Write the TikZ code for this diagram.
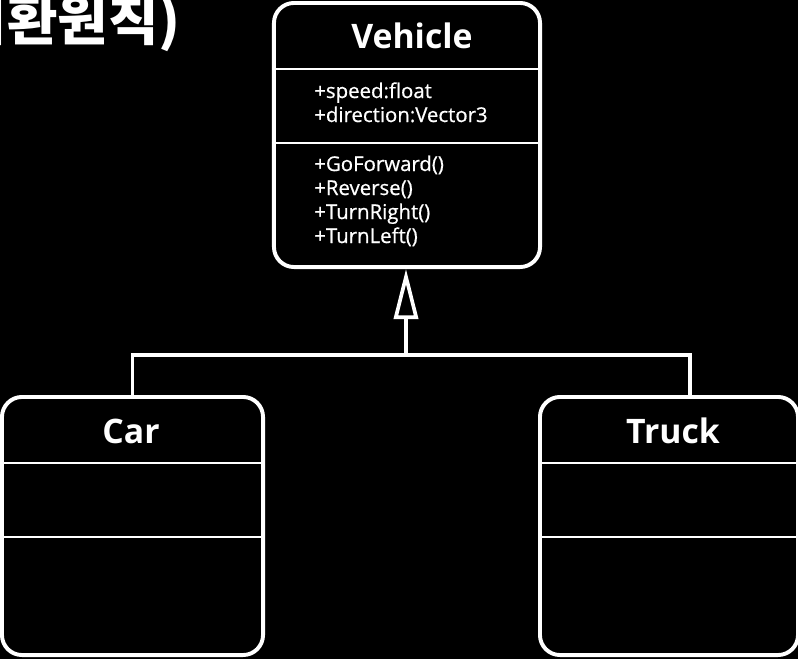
\documentclass[tikz,border=0pt]{standalone}
\usepackage{fontspec}
\setmainfont{Open Sans}
\newfontfamily\memberfont{Open Sans}[FakeBold=0.7]
\newfontfamily\krfont{Noto Sans CJK KR}
\usetikzlibrary{arrows.meta}
\begin{document}
\begin{tikzpicture}[x=0.025cm,y=-0.025cm,
  classbox/.style={draw=white,line width=2.8pt,rounded corners=0.5cm,inner sep=0pt},
  divider/.style={draw=white,line width=1.8pt},
  link/.style={draw=white,line width=2.6pt},
  title/.style={text=white,anchor=base,font=\bfseries\fontsize{24}{28}\selectfont},
  member/.style={text=white,anchor=base west,inner sep=0pt,font=\memberfont\fontsize{14.5}{17}\selectfont}]
\fill[black] (0,0) rectangle (798,659);
\useasboundingbox (0,0) rectangle (798,659);
\begin{scope}
\clip (0,0) rectangle (798,659);
\node[text=white,anchor=base east,inner sep=0pt,font=\krfont\bfseries\fontsize{39}{44}\selectfont] (caption) at (181,40) {치환원칙)};

% classes
\node[classbox,minimum width=6.65cm,minimum height=6.6cm] (vehicle) at (407,135) {};
\node[classbox,minimum width=6.525cm,minimum height=6.45cm] (car) at (132.5,526) {};
\node[classbox,minimum width=6.45cm,minimum height=6.45cm] (truck) at (669,526) {};

% compartments
\draw[divider] (vehicle.west |- 0,69)--(vehicle.east |- 0,69);
\draw[divider] (vehicle.west |- 0,143)--(vehicle.east |- 0,143);
\foreach \cls in {car,truck}{
  \draw[divider] (\cls.west |- 0,463)--(\cls.east |- 0,463);
  \draw[divider] (\cls.west |- 0,537)--(\cls.east |- 0,537);
}

\node[title] (vehicle_name) at (412,48) {Vehicle};
\node[title] (car_name) at (131,443) {Car};
\node[title] (truck_name) at (673,443) {Truck};

\node[member] (speed) at (314,98) {+speed:float};
\node[member] (direction) at (314,122) {+direction:Vector3};
\node[member] (forward) at (314,171) {+GoForward()};
\node[member] (reverse) at (314,195) {+Reverse()};
\node[member] (right) at (314,219) {+TurnRight()};
\node[member] (left) at (314,243) {+TurnLeft()};

% generalization
\coordinate (split) at (406,355);
\coordinate (truck_in) at (690,397);
\draw[link] (car.north) |- (split) -| (truck_in);
\draw[link,-{Triangle[open,length=1.25cm,width=0.6cm]}] (split) -- (split |- vehicle.south);
\end{scope}
\end{tikzpicture}
\end{document}
